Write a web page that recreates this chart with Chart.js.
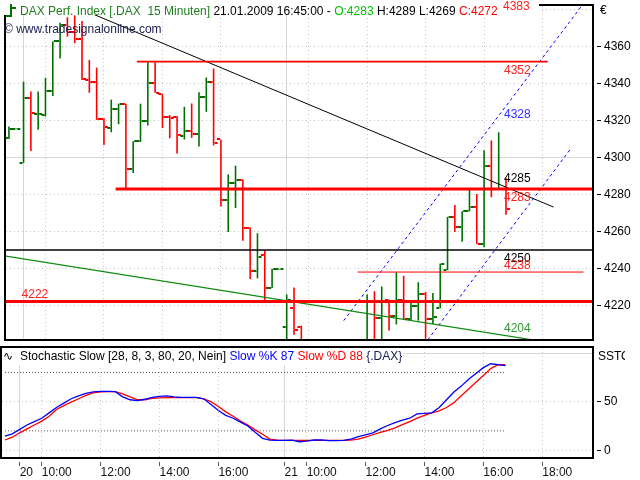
<!DOCTYPE html>
<html>
<head>
<meta charset="utf-8">
<script src="https://cdn.jsdelivr.net/npm/chart.js@4.4.1/dist/chart.umd.min.js"></script>
<style>
  html, body { margin: 0; padding: 0; background: #fff; }
  #wrap { position: relative; width: 640px; height: 480px; overflow: hidden;
          font-family: "Liberation Sans", Arial, sans-serif; font-size: 12px; }
  canvas { position: absolute; left: 0; }
  .t { position: absolute; white-space: pre; line-height: 14px; }
  .ico { position: absolute; background: #007000; }
</style>
</head>
<body>
<div id="wrap">
  <canvas id="priceChart" width="640" height="346" style="top:0"></canvas>
  <canvas id="stochChart" width="640" height="134" style="top:346px"></canvas>

  <div class="t" style="left:3px;top:2px;width:536px;height:13px;padding:2px 0 0 17px;box-sizing:border-box;background:#fff"><span style="color:#1f7f1f">DAX Perf. Index [.DAX  15 Minuten]</span> 21.01.2009 16:45:00 - <span style="color:#00c000">O:4283</span> H:4289 L:4269 <span style="color:#ff0000">C:4272</span></div>
  <div class="ico" style="left:10px;top:4px;width:2px;height:13px"></div>
  <div class="ico" style="left:6px;top:15px;width:4px;height:2px"></div>
  <div class="ico" style="left:12px;top:7px;width:4px;height:2px"></div>
  <div class="t" style="left:503px;top:-1px;color:#ff2020">4383</div>
  <div class="t" style="left:600px;top:3px">€</div>
  <div class="t" style="left:4px;top:22px;color:#202050">© www.tradesignalonline.com</div>

  <div class="t" style="left:2px;top:348px;width:401px;height:17px;background:#fff"></div>
  <div class="t" style="left:3px;top:349px;font-family:'DejaVu Sans';font-size:12px">∿</div>
  <div class="t" style="left:20px;top:349px">Stochastic Slow [28, 8, 3, 80, 20, Nein] <span style="color:#0000ff">Slow %K 87</span> <span style="color:#ff0000">Slow %D 88</span> <span style="color:#1a1a50">{.DAX}</span></div>
  <div class="t" style="left:598px;top:349px;width:27px;overflow:hidden">SSTO</div>
</div>

<script>
// 15 minute bars, first one is the 17:30 bar of 19.01, slot 0 = 20.01 09:15
const firstSlot = -2;
const opens = [4310.7, 4315.6, 4297.1, 4332.3, 4323.5, 4323.1, 4335.8, 4363.4, 4372.0, 4368.0,
  4364.0, 4342.2, 4340.7, 4321.0, 4316.0, 4326.3, 4329.1, 4293.7, 4308.8, 4319.9,
  4340.4, 4334.2, 4322.0, 4322.1, 4311.5, 4314.6, 4313.0, 4332.8, 4341.1, 4309.8,
  4277.1, 4286.0, 4287.7, 4262.1, 4238.7, 4247.4, 4229.3, 4239.6, 4208.1, 4218.7,
  4208.1, 4194, 4190, 4193, 4188, 4192, 4187, 4190, 4194, 4196,
  4222.3, 4213.0, 4223.0, 4214.3, 4223.1, 4212.5, 4219.6, 4226.2, 4212.7, 4218.4,
  4239.0, 4267.7, 4262.6, 4270.9, 4273.2, 4253.2, 4295.3, 4282.8, 4283];
const highs = [4316.9, 4315.8, 4341.1, 4335.8, 4335.8, 4343.2, 4362.9, 4373, 4376, 4377,
  4374, 4352.8, 4348.7, 4321.3, 4331.4, 4329.2, 4329.2, 4308.9, 4329.2, 4351.7,
  4351.7, 4334.5, 4323, 4322.5, 4327.5, 4329.3, 4335.4, 4343.4, 4348.2, 4309.8,
  4290.9, 4295.6, 4288.1, 4262.1, 4259, 4249.7, 4239.6, 4239.8, 4225.8, 4229.7,
  4209, 4198, 4196, 4197, 4195, 4196, 4194, 4197, 4198, 4225.8,
  4227.6, 4230.2, 4223.1, 4237.8, 4236, 4221.4, 4232.5, 4227.2, 4226.7, 4242.6,
  4267.9, 4274.3, 4270.9, 4283.3, 4280.3, 4304, 4309.3, 4313.7, 4289];
const lows = [4310, 4315.4, 4297.1, 4303.6, 4315.1, 4322.2, 4333.3, 4353.6, 4365.5, 4362,
  4342, 4335.1, 4320.4, 4306.8, 4313.7, 4318.1, 4282.4, 4291.6, 4308.5, 4317.4,
  4335.1, 4316, 4310.5, 4302.2, 4309.8, 4310.7, 4306, 4324.8, 4306.6, 4273.5,
  4259.7, 4272.7, 4255, 4234.3, 4234.6, 4222.6, 4229.3, 4239.4, 4195, 4204.1,
  4190, 4185, 4184, 4186, 4183, 4185, 4182, 4186, 4189, 4194,
  4196, 4197, 4206.4, 4209.6, 4212, 4211.7, 4211.7, 4201.9, 4209.9, 4218.4,
  4239, 4259.7, 4254.4, 4270.9, 4253.2, 4251.5, 4278.5, 4282.8, 4269];
const closes = [4315.6, 4315.7, 4332.3, 4324.3, 4323.8, 4335.8, 4362.9, 4372, 4368, 4364,
  4342.4, 4340.7, 4321, 4316.3, 4326.3, 4329.1, 4293.7, 4308.8, 4319.9, 4340.4,
  4335.1, 4322, 4321.5, 4312.1, 4314.2, 4313, 4332.8, 4341.1, 4308, 4277.1,
  4286, 4287.7, 4262.1, 4238.7, 4246.2, 4229.3, 4239.6, 4239.7, 4222.6, 4206.4,
  4194, 4190, 4193, 4188, 4192, 4187, 4190, 4194, 4196, 4222.3,
  4213, 4222.3, 4214.3, 4223.1, 4212.5, 4219.6, 4226.2, 4212.7, 4213.5, 4242.1,
  4267.7, 4262.6, 4270.9, 4273.2, 4253.2, 4295.3, 4282.8, 4283, 4272];

const slowK = [14.7, 17, 21.5, 26, 29.5, 33, 38.5,
  44, 48.5, 53, 56, 58.5, 60, 60.7, 60.7, 60.3, 55,
  52, 51, 52.5, 54.5, 55.5, 56, 55, 54.5, 54.5, 54.5,
  53, 47, 41, 36, 33, 29, 25, 18.5, 12.3, 10.5,
  10.3, 10.3, 10.5, 8.8, 9.5, 10.6, 10.6, 10, 9.9, 10.3,
  11.5, 14, 16, 18, 22, 25.5, 28.5, 31, 33, 37.5,
  38, 38.5, 44, 52, 60, 66, 73, 79, 85, 89, 88, 87];
const slowD = [10.6, 13.5, 18, 22, 26, 30, 35,
  42, 46, 49.5, 53, 56.5, 59, 60, 60.3, 60.3, 58,
  55, 52, 52, 53.3, 54, 54.2, 54.1, 54.1, 54.1, 54.1,
  53, 50, 45, 39.5, 35, 30, 26, 21, 16.5, 11.5,
  10.5, 10.3, 10.3, 10.2, 10.2, 10.2, 10.3, 10.3, 10.3, 10.3,
  10.5, 11.5, 13.5, 16, 18.5, 20.5, 23, 26.5, 29.5, 33,
  36, 38.5, 40.5, 44, 49, 56, 63, 70, 77, 84, 88, 88];
const stochBands = [80, 20];

const timeTicks = [0, 3, 11, 19, 27, 36, 39, 47, 55, 63, 71];
const timeLabels = ['20', '10:00', '12:00', '14:00', '16:00', '21', '10:00', '12:00', '14:00', '16:00', '18:00'];
const dayStarts = [0, 36];
const priceTicks = [4220, 4240, 4260, 4280, 4300, 4320, 4340, 4360, 4380];
const unlabeledPriceTicks = [4380];
const priceMajor = [4300];
const stochTicks = [0, 50];
const stochMajor = [100];

// drawn objects, in slot / price units
const levelValues = [4352, 4283, 4250, 4238, 4222];
const levelFrom = [15.5, 12.6, -3, 45.7, -3];
const levelTo = [71.7, 79, 79, 76.6, 79];
const trendLine = [{x: 5, y: 4385.2}, {x: 72.5, y: 4273.2}];
const supportLine = [{x: -3, y: 4247.0}, {x: 69.4, y: 4201.4}];
const channelUpper = [{x: 43.8, y: 4211.7}, {x: 76.5, y: 4382.9}];
const channelLower = [{x: 55.3, y: 4201.3}, {x: 74.8, y: 4304.5}];

const priceLabelTexts = ['4352', '4328', '4285', '4283', '4250', '4238', '4204', '4222'];
const priceLabelValues = [4352, 4328, 4285, 4283, 4250, 4238, 4204, 4222];

// ---- styling ----
const upColor = '#007000';
const downColor = '#ff0000';
const dotGrid = '#c4c4c4';
const solidGrid = '#d6d6d6';
const levelColors = ['#ff0000', '#ff0000', '#000000', '#ff0000', '#ff0000'];
const levelWidths = [1.7, 3, 1.5, 1, 3];
const priceLabelColors = ['#ff2020', '#3030ff', '#000000', '#ff2020', '#000000', '#ff2020', '#2e9a2e', '#ff2020'];
const labelsAbove = ['4285', '4238', '4204', '4222'];
const labelsLeft = ['4222'];

const slotMin = -2.4, slotMax = 77.9;
const priceMin = 4201.2, priceMax = 4382.1;
const stochMin = -7.9, stochMax = 105.2;

Chart.defaults.font.family = '"Liberation Sans", Arial, sans-serif';
Chart.defaults.font.size = 12;
Chart.defaults.color = '#000';

function tickImage(color, side) {
	const c = document.createElement('canvas');
	c.width = 10;
	c.height = 2;
	const g = c.getContext('2d');
	g.fillStyle = color;
	g.fillRect(side === 'left' ? 1 : 6, 0, 3, 2);
	return c;
}

const openUp = tickImage(upColor, 'left');
const openDown = tickImage(downColor, 'left');
const closeUp = tickImage(upColor, 'right');
const closeDown = tickImage(downColor, 'right');

const framePlugin = {
	id: 'frame',
	afterDraw(chart) {
		const ctx = chart.ctx;
		const a = chart.chartArea;
		ctx.save();
		ctx.strokeStyle = '#000';
		ctx.lineWidth = 2;
		ctx.strokeRect(a.left - 1, a.top - 1, a.width + 1, a.height + 1);
		ctx.restore();
	}
};

function lineSet(data, color, width, dash) {
	return {
		type: 'line',
		data: data,
		borderColor: color,
		borderWidth: width,
		borderDash: dash || [],
		pointRadius: 0,
		fill: false,
		tension: 0,
		clip: 0,
		order: 0,
		xAxisID: 'x',
		yAxisID: 'y'
	};
}

function gridAxis(ticks, color, dash, horizontal, min, max) {
	return {
		type: 'linear',
		position: horizontal ? 'bottom' : 'right',
		min: min,
		max: max,
		bounds: 'data',
		offset: false,
		afterBuildTicks: s => { s.ticks = ticks.map(v => ({value: v})); },
		ticks: {display: false},
		grid: {color: color, drawTicks: false, offset: false},
		border: {display: false, dash: dash},
		afterFit: s => {
			if (horizontal) s.height = 0; else s.width = 0;
			s.paddingTop = 0; s.paddingBottom = 0; s.paddingLeft = 0; s.paddingRight = 0;
		}
	};
}

const slots = opens.map((_, i) => firstSlot + i);
const isUp = closes.map((c, i) => c >= opens[i]);
const lastSlot = slots[slots.length - 1];

// ---- price chart ----
const priceDatasets = [
	{
		type: 'bar',
		data: slots.map((x, i) => ({x: x, y: [lows[i], highs[i]]})),
		backgroundColor: isUp.map(u => u ? upColor : downColor),
		borderWidth: 0,
		barThickness: 1.6,
		inflateAmount: 0,
		clip: 0,
		order: 2,
		xAxisID: 'x',
		yAxisID: 'y'
	},
	{
		type: 'line',
		data: slots.map((x, i) => ({x: x, y: opens[i]})),
		showLine: false,
		pointRadius: 5,
		pointStyle: isUp.map(u => u ? openUp : openDown),
		clip: 0,
		order: 2,
		xAxisID: 'x',
		yAxisID: 'y'
	},
	{
		type: 'line',
		data: slots.map((x, i) => ({x: x, y: closes[i]})),
		showLine: false,
		pointRadius: 5,
		pointStyle: isUp.map(u => u ? closeUp : closeDown),
		clip: 0,
		order: 2,
		xAxisID: 'x',
		yAxisID: 'y'
	}
];

levelValues.forEach((v, i) => {
	priceDatasets.push(lineSet([{x: levelFrom[i], y: v}, {x: levelTo[i], y: v}], levelColors[i], levelWidths[i]));
});
priceDatasets.push(lineSet(trendLine, '#000000', 1));
priceDatasets.push(lineSet(supportLine, '#108a10', 1.2));
priceDatasets.push(lineSet(channelUpper, '#0000ff', 1, [3, 3]));
priceDatasets.push(lineSet(channelLower, '#0000ff', 1, [3, 3]));

const hourTicks = timeTicks.filter(t => !dayStarts.includes(t));

const priceChart = new Chart(document.getElementById('priceChart'), {
	type: 'bar',
	data: {datasets: priceDatasets},
	options: {
		responsive: false,
		animation: false,
		devicePixelRatio: 1,
		events: [],
		layout: {padding: {left: 2, top: 2, right: 0, bottom: 3}},
		plugins: {legend: {display: false}, tooltip: {enabled: false}},
		scales: {
			x: gridAxis(hourTicks, dotGrid, [1, 3], true, slotMin, slotMax),
			xDay: gridAxis(dayStarts, solidGrid, [], true, slotMin, slotMax),
			y: {
				type: 'linear',
				position: 'right',
				min: priceMin,
				max: priceMax,
				bounds: 'data',
				afterBuildTicks: s => { s.ticks = priceTicks.map(v => ({value: v})); },
				ticks: {
					autoSkip: false,
					padding: 3,
					color: '#000',
					callback: v => unlabeledPriceTicks.includes(v) ? '' : String(v)
				},
				grid: {
					color: dotGrid,
					tickLength: 8,
					tickBorderDash: [0, 4, 4],
					tickColor: ctx => (ctx.tick && unlabeledPriceTicks.includes(ctx.tick.value)) ? 'rgba(0,0,0,0)' : '#000'
				},
				border: {display: false, dash: [1, 3]},
				afterFit: s => { s.width = 47; s.paddingTop = 0; s.paddingBottom = 0; }
			},
			yMajor: gridAxis(priceMajor, solidGrid, [], false, priceMin, priceMax)
		}
	},
	plugins: [framePlugin]
});

// ---- stochastic chart ----
const stochDatasets = [
	lineSet(slots.map((x, i) => ({x: x, y: slowK[i]})), '#0000ff', 1.3),
	lineSet(slots.map((x, i) => ({x: x, y: slowD[i]})), '#ff0000', 1.3)
];
stochDatasets[1].order = 1;
stochBands.forEach(b => {
	const ds = lineSet([{x: slots[0], y: b}, {x: lastSlot, y: b}], '#555555', 1, [1, 2]);
	ds.order = 2;
	stochDatasets.push(ds);
});

new Chart(document.getElementById('stochChart'), {
	type: 'line',
	data: {datasets: stochDatasets},
	options: {
		responsive: false,
		animation: false,
		devicePixelRatio: 1,
		events: [],
		layout: {padding: {left: 2, top: 2, right: 0, bottom: 0}},
		plugins: {legend: {display: false}, tooltip: {enabled: false}},
		scales: {
			x: {
				type: 'linear',
				position: 'bottom',
				min: slotMin,
				max: slotMax,
				bounds: 'data',
				offset: false,
				afterBuildTicks: s => { s.ticks = timeTicks.map(v => ({value: v})); },
				ticks: {
					autoSkip: false,
					align: 'start',
					maxRotation: 0,
					minRotation: 0,
					padding: -1,
					color: '#111',
					callback: (v, i) => timeLabels[i]
				},
				grid: {color: dotGrid, tickLength: 8, tickBorderDash: [0, 4, 4], tickColor: '#555', offset: false},
				border: {display: false, dash: [1, 3]},
				afterFit: s => { s.height = 22; s.paddingLeft = 0; s.paddingRight = 0; }
			},
			xDay: gridAxis(dayStarts, solidGrid, [], true, slotMin, slotMax),
			y: {
				type: 'linear',
				position: 'right',
				min: stochMin,
				max: stochMax,
				bounds: 'data',
				afterBuildTicks: s => { s.ticks = stochTicks.map(v => ({value: v})); },
				ticks: {autoSkip: false, padding: 3, color: '#000', callback: v => String(v)},
				grid: {color: dotGrid, tickLength: 8, tickBorderDash: [0, 4, 4], tickColor: '#000'},
				border: {display: false, dash: [1, 3]},
				afterFit: s => { s.width = 47; s.paddingTop = 0; s.paddingBottom = 0; }
			},
			yMajor: gridAxis(stochMajor, solidGrid, [], false, stochMin, stochMax)
		}
	},
	plugins: [framePlugin]
});

// ---- price labels next to the drawn lines ----
const wrap = document.getElementById('wrap');
const xs = priceChart.scales.x;
const ys = priceChart.scales.y;
priceLabelTexts.forEach((txt, i) => {
	const div = document.createElement('div');
	div.className = 't';
	div.textContent = txt;
	div.style.color = priceLabelColors[i];
	const py = ys.getPixelForValue(priceLabelValues[i]);
	const px = xs.getPixelForValue(labelsLeft.includes(txt) ? 0 : lastSlot) - 2;
	div.style.left = px + 'px';
	div.style.top = (labelsAbove.includes(txt) ? py - 14.3 : py + 1.5) + 'px';
	wrap.appendChild(div);
});
</script>
</body>
</html>
